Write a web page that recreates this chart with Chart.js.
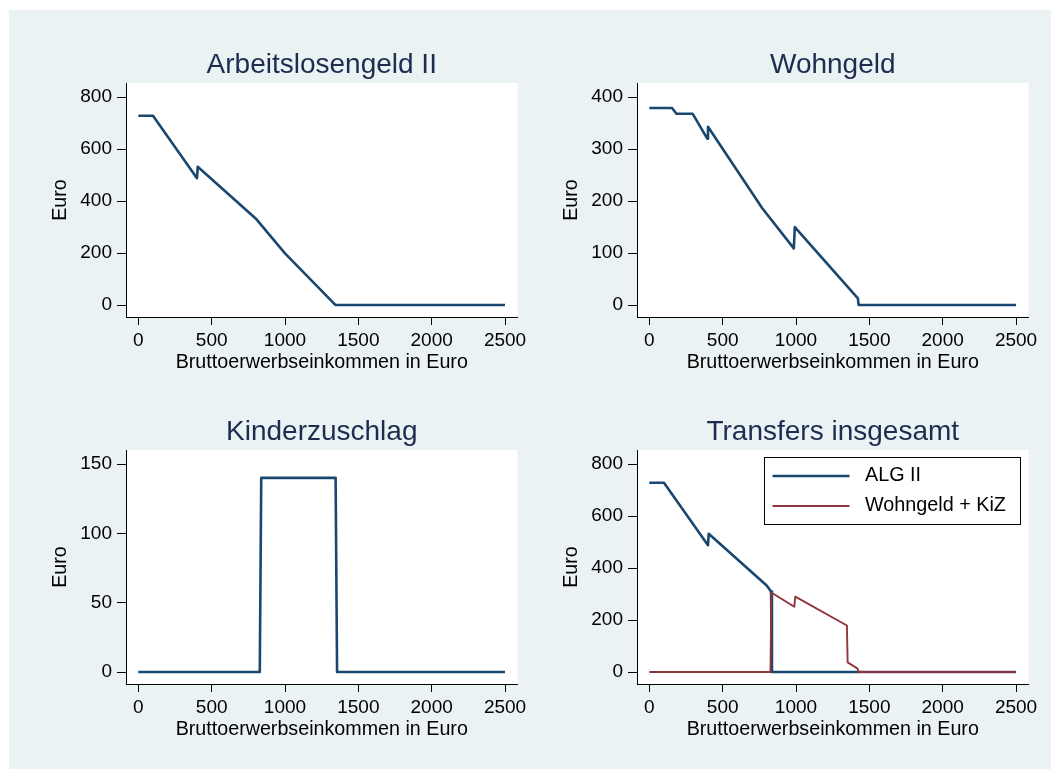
<!DOCTYPE html>
<html lang="de">
<head>
<meta charset="utf-8">
<title>Transfers nach Bruttoerwerbseinkommen</title>
<script src="https://cdn.jsdelivr.net/npm/chart.js@4/dist/chart.umd.min.js"></script>
<style>
  html, body { margin: 0; padding: 0; background: #fff; }
  .grafik {
    position: absolute; left: 9px; top: 10px;
    width: 1042px; height: 759px; background: #eaf2f3;
  }
  .grafik canvas { position: absolute; }
  #panelAlg { left: 0; top: 0; }
  #panelWohngeld { left: 511px; top: 0; }
  #panelKiz { left: 0; top: 367px; }
  #panelGesamt { left: 511px; top: 367px; }
</style>
</head>
<body>
<div class="grafik">
  <canvas id="panelAlg" width="531" height="367"></canvas>
  <canvas id="panelWohngeld" width="531" height="367"></canvas>
  <canvas id="panelKiz" width="531" height="367"></canvas>
  <canvas id="panelGesamt" width="531" height="367"></canvas>
</div>
<script>
/* ============================================================
   DATEN
============================================================ */
// Achsenbeschriftungen
const einkommensTicks = [0, 500, 1000, 1500, 2000, 2500];
const ticksAlg = [0, 200, 400, 600, 800];
const ticksWohngeld = [0, 100, 200, 300, 400];
const ticksKiz = [0, 50, 100, 150];

// Arbeitslosengeld II
const algEinkommen = [0, 100, 400, 405, 800, 1000, 1345, 2500];
const algBetrag = [728, 728, 488, 532, 333, 199, 0, 0];

// Wohngeld
const wgEinkommen = [0, 155, 185, 295, 395, 400, 770, 985, 992, 1422, 1427, 2500];
const wgBetrag = [379, 379, 368, 368, 320, 343, 186, 109, 150, 13, 0, 0];

// Kinderzuschlag
const kizEinkommen = [0, 828, 838, 1345, 1355, 2500];
const kizBetrag = [0, 0, 140, 140, 0, 0];

// Transfers insgesamt
const gesamtAlgEinkommen = [0, 100, 400, 405, 800, 830, 836, 2500];
const gesamtAlgBetrag = [728, 728, 488, 532, 333, 310, 0, 0];
const gesamtWgKizEinkommen = [0, 826, 832, 988, 995, 1347, 1352, 1420, 1427, 2500];
const gesamtWgKizBetrag = [0, 0, 306, 251, 290, 179, 37, 13, 0, 0];

/* ============================================================
   GRUNDEINSTELLUNGEN
============================================================ */
Chart.defaults.font.family = '"Liberation Sans", Arial, sans-serif';
Chart.defaults.color = "#000";

const navy = "#1a476f";
const maroon = "#90353b";

const punkte = (xs, ys) => xs.map((x, i) => ({ x: x, y: ys[i] }));

// weisse Zeichenflaeche
const weisseFlaeche = {
  id: "weisseFlaeche",
  beforeDraw(chart) {
    const { ctx, chartArea } = chart;
    ctx.save();
    ctx.fillStyle = "#fff";
    ctx.fillRect(chartArea.left, chartArea.top, chartArea.width, chartArea.height);
    ctx.restore();
  },
};

// Legende innerhalb der Zeichenflaeche (wie in Stata)
const legendeBox = {
  id: "legendeBox",
  afterDraw(chart) {
    const { ctx, chartArea } = chart;
    const x = chartArea.left + 127.5;
    const y = chartArea.top + 7.5;
    ctx.save();
    ctx.fillStyle = "#fff";
    ctx.fillRect(x, y, 256, 67);
    ctx.strokeStyle = "#000";
    ctx.lineWidth = 1;
    ctx.strokeRect(x, y, 256, 67);
    chart.data.datasets.forEach((ds, i) => {
      const ly = y + 18.5 + i * 30;
      ctx.strokeStyle = ds.borderColor;
      ctx.lineWidth = ds.borderWidth;
      ctx.beginPath();
      ctx.moveTo(x + 8, ly);
      ctx.lineTo(x + 85, ly);
      ctx.stroke();
      ctx.fillStyle = "#000";
      ctx.font = '19.8px "Liberation Sans", Arial, sans-serif';
      ctx.textBaseline = "middle";
      ctx.textAlign = "left";
      ctx.fillText(ds.label, x + 100.5, ly);
    });
    ctx.restore();
  },
};

/* ============================================================
   EIN PANEL ZEICHNEN
============================================================ */
function zeichnePanel(id, titel, datensaetze, yTicks, yMin, yMax, extraPlugins = []) {
  return new Chart(document.getElementById(id), {
    type: "line",
    data: { datasets: datensaetze },
    options: {
      responsive: false,
      animation: false,
      events: [],
      // rechts Platz fuer die Beschriftung "2500"
      layout: { padding: { top: 0, right: 22.5, bottom: 0, left: 0 } },
      elements: {
        point: { radius: 0 },
        line: { tension: 0, borderJoinStyle: "round" },
      },
      plugins: {
        legend: { display: false },
        tooltip: { enabled: false },
        title: {
          display: true,
          text: titel,
          fullSize: false,
          color: "#1e2c4f",
          font: { size: 28, weight: "normal", lineHeight: 1.2 },
          padding: { top: 38.5, bottom: 0.9 },
        },
      },
      scales: {
        x: {
          type: "linear",
          min: -84,
          max: 2585,
          afterFit: (s) => {
            s.height = 60;
            s.paddingLeft = 0;
            s.paddingRight = 0;
          },
          afterBuildTicks: (s) => { s.ticks = einkommensTicks.map((v) => ({ value: v })); },
          ticks: {
            callback: (v) => String(v),
            font: { size: 19 },
            color: "#000",
            padding: 4,
            maxRotation: 0,
            autoSkip: false,
          },
          grid: { drawOnChartArea: false, tickLength: 8, color: "#000" },
          border: { color: "#000" },
          title: {
            display: true,
            text: "Bruttoerwerbseinkommen in Euro",
            font: { size: 19.7 },
            color: "#000",
            padding: { top: 0, bottom: 2.2 },
          },
        },
        y: {
          min: yMin,
          max: yMax,
          afterFit: (s) => {
            s.width = 117;
            s.paddingTop = 0;
            s.paddingBottom = 0;
          },
          afterBuildTicks: (s) => { s.ticks = yTicks.map((v) => ({ value: v })); },
          ticks: {
            callback: (v) => String(v),
            font: { size: 19 },
            color: "#000",
            padding: 5,
            autoSkip: false,
          },
          grid: { drawOnChartArea: false, tickLength: 9, color: "#000" },
          border: { color: "#000" },
          title: {
            display: true,
            text: "Euro",
            font: { size: 19.7 },
            color: "#000",
            padding: { top: 40, bottom: 0 },
          },
        },
      },
    },
    plugins: [weisseFlaeche, ...extraPlugins],
  });
}

/* ============================================================
   DIE VIER PANELS
============================================================ */
zeichnePanel("panelAlg", "Arbeitslosengeld II", [
  { label: "ALG II", data: punkte(algEinkommen, algBetrag), borderColor: navy, borderWidth: 2.6 },
], ticksAlg, -46, 854);

zeichnePanel("panelWohngeld", "Wohngeld", [
  { label: "Wohngeld", data: punkte(wgEinkommen, wgBetrag), borderColor: navy, borderWidth: 2.6 },
], ticksWohngeld, -23, 427);

zeichnePanel("panelKiz", "Kinderzuschlag", [
  { label: "Kinderzuschlag", data: punkte(kizEinkommen, kizBetrag), borderColor: navy, borderWidth: 2.6 },
], ticksKiz, -8.65, 160.1);

zeichnePanel("panelGesamt", "Transfers insgesamt", [
  { label: "ALG II", data: punkte(gesamtAlgEinkommen, gesamtAlgBetrag), borderColor: navy, borderWidth: 2.6, order: 1 },
  { label: "Wohngeld + KiZ", data: punkte(gesamtWgKizEinkommen, gesamtWgKizBetrag), borderColor: maroon, borderWidth: 1.9, order: 0 },
], ticksAlg, -46, 854, [legendeBox]);
</script>
</body>
</html>
